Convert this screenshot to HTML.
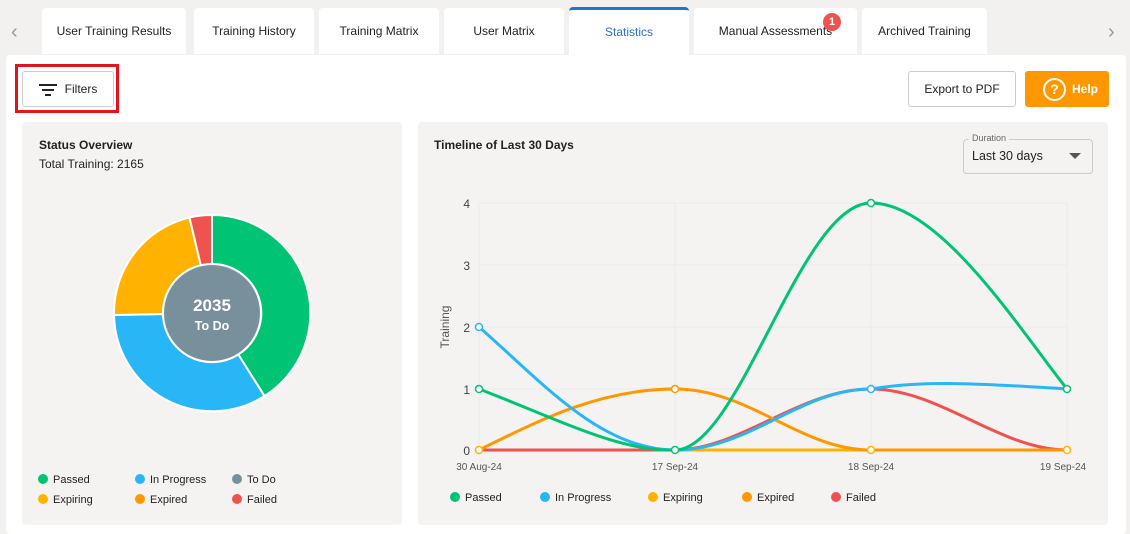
<!DOCTYPE html>
<html><head><style>
body{margin:0;width:1130px;height:534px;background:#f2f1f0;font-family:"Liberation Sans",sans-serif;position:relative;overflow:hidden;font-size:12px;color:#222}
.a{position:absolute}
.tab{position:absolute;top:8px;height:46px;background:#fff;border-radius:4px 4px 0 0;text-align:center;line-height:47px;font-size:12px;color:#222}
.btn{position:absolute;border:1px solid #ccc;border-radius:3px;background:#fff;text-align:center;font-size:12px}
.panel{position:absolute;background:#f4f3f2;border-radius:4px;top:122px;height:403px}
.lg{position:absolute;font-size:11px}
.lg i{display:inline-block;width:10px;height:10px;border-radius:50%;margin-right:5px;vertical-align:-1px}
</style></head><body>
<div class="a" style="left:11px;top:21px;font-size:20px;color:#999">‹</div>
<div class="a" style="left:1108px;top:21px;font-size:20px;color:#999">›</div>
<div class="tab" style="left:42px;width:144px">User Training Results</div>
<div class="tab" style="left:194px;width:120px">Training History</div>
<div class="tab" style="left:319px;width:120px">Training Matrix</div>
<div class="tab" style="left:444px;width:120px">User Matrix</div>
<div class="tab" style="left:569px;width:120px;color:#2a6fd6;border-top:3px solid #1976d2;top:7px;height:48px;line-height:45px">Statistics</div>
<div class="tab" style="left:694px;width:163px">Manual Assessments</div>
<div class="a" style="left:823px;top:13px;width:18px;height:18px;border-radius:50%;background:#ef5350;color:#fff;font-size:11px;font-weight:bold;text-align:center;line-height:18px">1</div>
<div class="tab" style="left:862px;width:125px">Archived Training</div>
<div class="a" style="left:6px;top:55px;width:1120px;height:479px;background:#fff;border-radius:4px"></div>
<div class="a" style="left:15px;top:64px;width:98px;height:43px;border:3px solid #e3141e"></div>
<div class="btn" style="left:22px;top:71px;width:90px;height:34px;line-height:34px"><span style="display:inline-block;vertical-align:middle;margin-right:8px;width:18px"><span style="display:block;height:2px;background:#222;margin:0 0 3px 0"></span><span style="display:block;height:2px;background:#222;margin:0 3px 3px"></span><span style="display:block;height:2px;background:#222;margin:0 6px"></span></span>Filters</div>
<div class="btn" style="left:908px;top:71px;width:106px;height:34px;line-height:34px">Export to PDF</div>
<div class="a" style="left:1025px;top:71px;width:84px;height:36px;background:#ff9800;border-radius:3px;color:#fff;font-weight:bold;font-size:12px;line-height:36px"><span style="display:inline-block;width:19px;height:19px;border:2px solid #fff;border-radius:50%;text-align:center;line-height:19px;margin:0 6px 0 18px;font-size:14px;vertical-align:middle">?</span>Help</div>

<div class="panel" style="left:22px;width:380px"></div>
<div class="a" style="left:39px;top:138px;font-weight:bold">Status Overview</div>
<div class="a" style="left:39px;top:157px">Total Training: 2165</div>
<svg class="a" style="left:0;top:0" width="1130" height="534">
<g stroke="#fff" stroke-width="2">
<path d="M212,215 A98,98 0 0 1 264.5,396 L238.3,354.5 A49,49 0 0 0 212,264 Z" fill="#00c473"/>
<path d="M264.5,396 A98,98 0 0 1 114,315 L163,314 A49,49 0 0 0 238.3,354.5 Z" fill="#29b6f6"/>
<path d="M114,315 A98,98 0 0 1 189.5,217.5 L200.8,265.3 A49,49 0 0 0 163,314 Z" fill="#ffb300"/>
<path d="M189.5,217.5 A98,98 0 0 1 212,215 L212,264 A49,49 0 0 0 200.8,265.3 Z" fill="#ef5350"/>
<circle cx="212" cy="313" r="49" fill="#78909c"/>
</g>
<text x="212" y="311" text-anchor="middle" fill="#fff" font-weight="bold" font-size="17" font-family="Liberation Sans">2035</text>
<text x="212" y="330" text-anchor="middle" fill="#fff" font-weight="bold" font-size="12.5" font-family="Liberation Sans">To Do</text>
</svg>
<div class="lg" style="left:38px;top:474px"><i style="background:#00c473"></i>Passed</div>
<div class="lg" style="left:135px;top:474px"><i style="background:#29b6f6"></i>In Progress</div>
<div class="lg" style="left:232px;top:474px"><i style="background:#78909c"></i>To Do</div>
<div class="lg" style="left:38px;top:494px"><i style="background:#ffb300"></i>Expiring</div>
<div class="lg" style="left:135px;top:494px"><i style="background:#ff9800"></i>Expired</div>
<div class="lg" style="left:232px;top:494px"><i style="background:#ef5350"></i>Failed</div>

<div class="panel" style="left:418px;width:690px"></div>
<div class="a" style="left:434px;top:138px;font-weight:bold">Timeline of Last 30 Days</div>
<div class="a" style="left:963px;top:139px;width:128px;height:33px;border:1px solid #ccc;border-radius:4px;background:#f4f3f2"></div>
<div class="a" style="left:969px;top:133px;font-size:9px;color:#666;background:#f4f3f2;padding:0 3px">Duration</div>
<div class="a" style="left:972px;top:149px;font-size:12.5px">Last 30 days</div>
<div class="a" style="left:1069px;top:153px;width:0;height:0;border-left:6px solid transparent;border-right:6px solid transparent;border-top:6px solid #555"></div>
<svg class="a" style="left:0;top:0" width="1130" height="534" font-family="Liberation Sans" font-size="12" fill="#444">
<g stroke="#ebeae9" stroke-width="1">
<line x1="479" y1="203" x2="1067" y2="203"/><line x1="479" y1="265" x2="1067" y2="265"/><line x1="479" y1="327" x2="1067" y2="327"/><line x1="479" y1="389" x2="1067" y2="389"/><line x1="479" y1="450" x2="1067" y2="450"/>
<line x1="479" y1="203" x2="479" y2="455"/><line x1="675" y1="203" x2="675" y2="455"/><line x1="871" y1="203" x2="871" y2="455"/><line x1="1067" y1="203" x2="1067" y2="455"/>
</g>
<g text-anchor="end"><text x="470" y="208">4</text><text x="470" y="270">3</text><text x="470" y="332">2</text><text x="470" y="394">1</text><text x="470" y="455">0</text></g>
<g text-anchor="middle" font-size="10" fill="#555"><text x="479" y="470">30 Aug-24</text><text x="675" y="470">17 Sep-24</text><text x="871" y="470">18 Sep-24</text><text x="1063" y="470">19 Sep-24</text></g>
<text transform="translate(449,327) rotate(-90)" text-anchor="middle" font-size="12" fill="#555">Training</text>
<g fill="none" stroke-width="3">
<path d="M479,450 L1067,450" stroke="#ffb300"/>
<path d="M479,450 L675,450 C740,450 800,389 871,389 C940,389 1000,450 1067,450" stroke="#ef5350"/>
<path d="M479,450 C540,420 600,389 675,389 C750,389 800,450 871,450 L1067,450" stroke="#ff9800"/>
<path d="M479,327 C540,380 600,450 675,450 C750,450 800,389 871,389 C930,379 1000,385 1067,389" stroke="#29b6f6"/>
<path d="M479,389 C560,420 620,452 675,450 C740,450 800,203 871,203 C940,203 1020,330 1067,389" stroke="#00c473"/>
</g>
<g fill="#fff" stroke-width="1.5">
<circle cx="479" cy="389" r="3.5" stroke="#00c473"/><circle cx="871" cy="203" r="3.5" stroke="#00c473"/><circle cx="1067" cy="389" r="3.5" stroke="#00c473"/>
<circle cx="479" cy="327" r="3.5" stroke="#29b6f6"/><circle cx="871" cy="389" r="3.5" stroke="#29b6f6"/><circle cx="675" cy="450" r="3.5" stroke="#00c473"/>
<circle cx="675" cy="389" r="3.5" stroke="#ff9800"/><circle cx="479" cy="450" r="3.5" stroke="#ffb300"/><circle cx="871" cy="450" r="3.5" stroke="#ffb300"/><circle cx="1067" cy="450" r="3.5" stroke="#ffb300"/>
</g>
</svg>
<div class="lg" style="left:450px;top:492px"><i style="background:#00c473"></i>Passed</div>
<div class="lg" style="left:540px;top:492px"><i style="background:#29b6f6"></i>In Progress</div>
<div class="lg" style="left:648px;top:492px"><i style="background:#ffb300"></i>Expiring</div>
<div class="lg" style="left:742px;top:492px"><i style="background:#ff9800"></i>Expired</div>
<div class="lg" style="left:831px;top:492px"><i style="background:#ef5350"></i>Failed</div>
</body></html>
